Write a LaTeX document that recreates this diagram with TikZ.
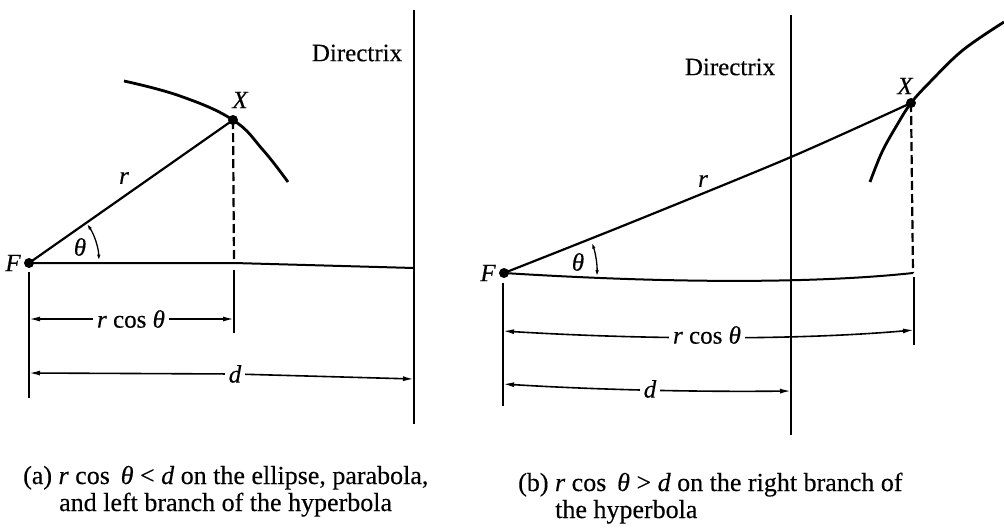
\documentclass[tikz,border=0pt]{standalone}
\usepackage{fontspec}
\setmainfont[FakeBold=0.3,ItalicFeatures={FakeBold=0.3}]{Liberation Serif}
\usetikzlibrary{arrows.meta,calc}
\begin{document}
\begin{tikzpicture}[x=1pt,y=-1pt,
  lbl/.style={font=\fontsize{25}{28}\selectfont\itshape, inner sep=1pt},
  plain/.style={font=\fontsize{25}{28}\selectfont, inner sep=1pt},
  dimtxt/.style={font=\fontsize{25}{28}\selectfont, fill=white, inner sep=4pt},
  captxt/.style={font=\fontsize{26}{29}\selectfont, anchor=base west, inner sep=0pt},
  conic/.style={line width=2.8pt},
  dirx/.style={line width=2.8pt},
  ray/.style={line width=2.2pt},
  base/.style={line width=2pt},
  dimln/.style={line width=1.6pt, {Latex[length=11pt,width=5pt]}-{Latex[length=11pt,width=5pt]}},
  ext/.style={line width=1.7pt},
  ang/.style={line width=1.3pt, {Latex[length=6pt,width=3.5pt]}-{Latex[length=6pt,width=3.5pt]}},
  dot/.style={circle, fill=black, inner sep=0pt, minimum size=10pt},
  dsh/.style={line width=2.2pt, dash pattern=on 9pt off 4pt}
]
\useasboundingbox (0,0) rectangle (1004,528);

% ================= (a) =================
\coordinate (Fa) at (29,263);
\coordinate (Xa) at (233,120);
\coordinate (Da1) at (414,10);
\coordinate (Da2) at (414,424);
\coordinate (Ba1) at (234,263);
\coordinate (Ba2) at (414,268);

\draw[dirx] (Da1) -- (Da2);
\node[plain] (dira) at (357,53) {Directrix};

\draw[conic] plot[smooth, tension=0.7] coordinates {(124,81) (180,96) (233,120) (263,150) (288,182)};
\draw[ray] (Fa) -- (Xa);
\draw[base] (Fa) -- (Ba1) -- (Ba2);
\draw[dsh] (Xa) -- (Ba1);
\node[dot] (fadot) at (Fa) {};
\node[dot] (xadot) at (Xa) {};
\node[lbl] (Fla) at (13,263) {F};
\node[lbl] (Xla) at (240,100) {X};
\node[lbl] (rla) at (124,178) {r};
\node[lbl] (tha) at (80,247) {θ};
\draw[ang] ($(Fa)+(-34:70)$) arc[start angle=-34, end angle=-2, radius=70];

% ticks
\coordinate (ta1) at (29,272);  \coordinate (ta2) at (29,398);
\coordinate (xa1) at (234,270); \coordinate (xa2) at (234,333);
\draw[ext] (ta1) -- (ta2);
\draw[ext] (xa1) -- (xa2);

% dims
\coordinate (rca1) at (29,319); \coordinate (rca2) at (234,319);
\draw[dimln] (rca1) -- (rca2);
\node[dimtxt] (rcla) at (131,319) {\textit{r} cos\ \textit{θ}};
\coordinate (da1) at (29,373); \coordinate (dam) at (235,374); \coordinate (da2) at (414,379);
\draw[dimln] (da1) -- (dam) -- (da2);
\node[dimtxt] (dla) at (235,374) {\textit{d}};

\node[captxt] (capa1) at (23,484) {(a) \textit{r} cos\ \,\textit{θ} < \textit{d} on the ellipse, parabola,};
\node[captxt] (capa2) at (59,511) {and left branch of the hyperbola};

% ================= (b) =================
\coordinate (Fb) at (504,273);
\coordinate (Xb) at (911,103);
\coordinate (Db1) at (791,15);
\coordinate (Db2) at (791,435);
\coordinate (Bb) at (913,273);

\draw[dirx] (Db1) -- (Db2);
\node[plain] (dirb) at (730,67) {Directrix};

\draw[conic] plot[smooth, tension=0.6] coordinates {(870,182) (882,152) (897,125) (911,103) (930,82) (963,50) (1004,22)};
\draw[ray] plot[smooth] coordinates {(504,273) (630,223) (791,157) (911,103)};
\draw[base] (Fb) .. controls (680,284) and (820,283) .. (Bb);
\draw[dsh] (Xb) -- (Bb);
\node[dot] (fbdot) at (Fb) {};
\node[dot] (xbdot) at (Xb) {};
\node[lbl] (Flb) at (488,273) {F};
\node[lbl] (Xlb) at (905,86) {X};
\node[lbl] (rlb) at (703,181) {r};
\node[lbl] (thb) at (578,262) {θ};
\draw[ang] ($(Fb)+(-19:93)$) arc[start angle=-19, end angle=2, radius=93];

\coordinate (tb1) at (503,283); \coordinate (tb2) at (503,406);
\coordinate (xb1) at (914,277); \coordinate (xb2) at (914,345);
\draw[ext] (tb1) -- (tb2);
\draw[ext] (xb1) -- (xb2);

\coordinate (rcb1) at (503,331); \coordinate (rcb2) at (914,330);
\draw[dimln] (rcb1) .. controls (650,340) and (800,340) .. (rcb2);
\node[dimtxt] (rclb) at (707,335) {\textit{r} cos\ \textit{θ}};
\coordinate (db1) at (503,384); \coordinate (db2) at (791,391);
\draw[dimln] (db1) .. controls (600,390) and (700,392) .. (db2);
\node[dimtxt] (dlb) at (650,389) {\textit{d}};

\node[captxt] (capb1) at (518,491) {(b) \textit{r} cos\ \,\textit{θ} > \textit{d} on the right branch of};
\node[captxt] (capb2) at (555,518) {the hyperbola};
\end{tikzpicture}
\end{document}
